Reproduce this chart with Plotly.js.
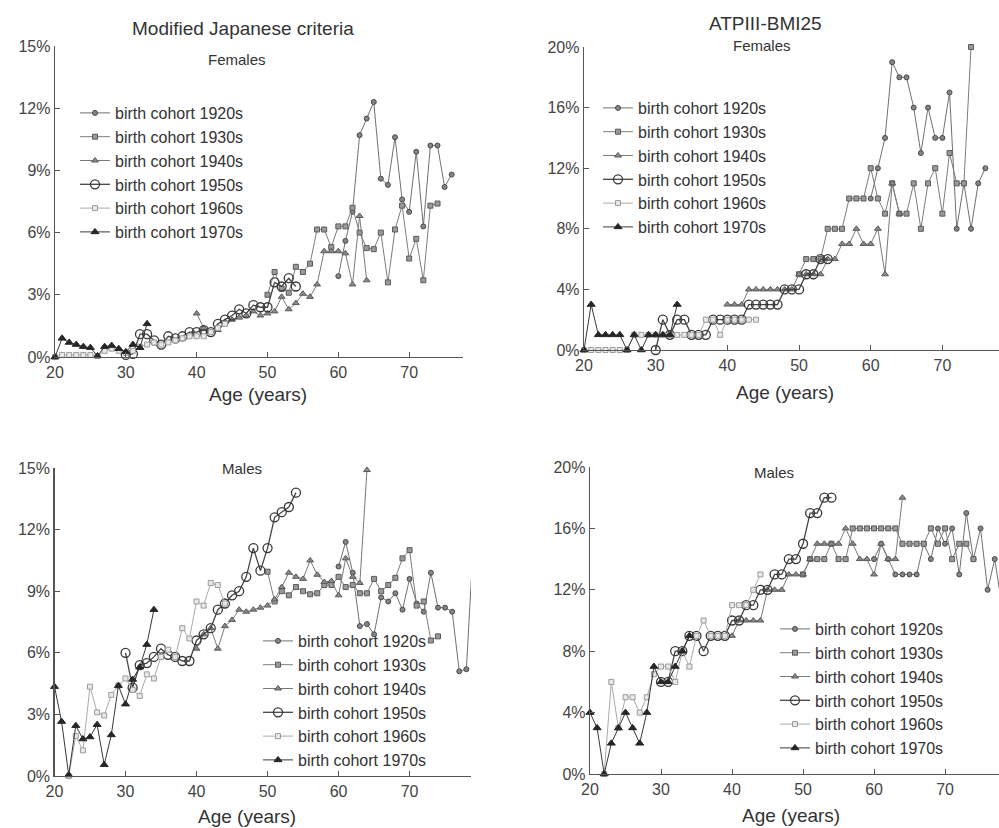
<!DOCTYPE html>
<html><head><meta charset="utf-8">
<script src="https://cdn.plot.ly/plotly-3.0.1.min.js"></script>
<style>html,body{margin:0;padding:0;background:#fff}#chart{width:999px;height:828px}</style>
</head><body><div id="chart"></div>
<script>
// Legend labels
const cohortNames = ['birth cohort 1920s','birth cohort 1930s','birth cohort 1940s','birth cohort 1950s','birth cohort 1960s','birth cohort 1970s'];
const xTickVals = [20, 30, 40, 50, 60, 70];

// ---- Modified Japanese criteria, Females (prevalence %) ----
const jpF1920Start = 60, jpF1920 = [3.9, 5.6, 7.0, 10.7, 11.5, 12.3, 8.6, 8.3, 10.6, 7.6, 7.0, 9.9, 6.3, 10.2, 10.2, 8.2, 8.8];
const jpF1930Start = 50, jpF1930 = [3.0, 4.1, 3.3, 3.1, 4.35, 4.1, 4.5, 6.15, 6.15, 5.3, 6.3, 6.3, 7.2, 6.0, 5.25, 5.2, 6.0, 3.6, 6.15, 7.3, 4.75, 5.7, 3.7, 7.3, 7.4];
const jpF1940Start = 40, jpF1940 = [2.1, 1.4, 1.2, 1.3, 1.7, 1.8, 1.9, 2.0, 2.2, 2.0, 2.1, 2.2, 2.9, 2.3, 2.6, 3.05, 2.9, 3.5, 5.1, 5.1, 5.1, 5.0, 3.5, 6.8, 3.7];
const jpF1950Start = 30, jpF1950 = [0.1, 0.15, 1.1, 1.1, 0.8, 0.6, 1.0, 0.9, 1.0, 1.2, 1.2, 1.3, 1.2, 1.6, 1.8, 2.0, 2.3, 2.1, 2.5, 2.4, 2.4, 3.6, 3.4, 3.8, 3.4];
const jpF1960Start = 20, jpF1960 = [0, 0.1, 0.1, 0.1, 0.1, 0.1, 0.05, 0.3, 0.4, 0.3, 0.2, 0.3, 0.5, 0.6, 0.7, 0.6, 0.7, 0.8, 0.9, 1.0, 1.0, 1.0, 1.2, 1.4, 1.6];
const jpF1970Start = 20, jpF1970 = [0, 0.9, 0.7, 0.6, 0.5, 0.45, 0.05, 0.5, 0.55, 0.4, 0.25, 0.6, 0.45, 1.6];

// ---- ATPIII-BMI25, Females ----
const atF1920Start = 60, atF1920 = [10, 12, 14, 19, 18, 18, 16, 13, 16, 14, 14, 17, 8, 11, 8, 11, 12];
const atF1930Start = 50, atF1930 = [5, 6, 6, 6, 8, 8, 8, 10, 10, 10, 12, 10, 9, 11, 9, 9, 11, 8, 11, 12, 9, 13, 11, 11, 20];
const atF1940Start = 40, atF1940 = [3, 3, 3, 4, 4, 4, 4, 4, 4, 4, 5, 5, 5, 5, 6, 6, 7, 7, 8, 7, 7, 8, 5, 11, 9];
const atF1950Start = 30, atF1950 = [0, 2, 1, 2, 2, 1, 1, 1, 2, 2, 2, 2, 2, 3, 3, 3, 3, 3, 4, 4, 4, 5, 5, 6, 6];
const atF1960Start = 20, atF1960 = [0, 0, 0, 0, 0, 0, 0, 1, 1, 1, 1, 1, 1, 1, 1, 1, 1, 2, 2, 1, 2, 2, 2, 2, 2];
const atF1970Start = 20, atF1970 = [0, 3, 1, 1, 1, 1, 0, 1, 0, 1, 1, 1, 1, 3];

// ---- Modified Japanese criteria, Males ----
const jpM1920Start = 60, jpM1920 = [10.2, 11.4, 9.9, 7.3, 7.4, 6.9, 8.7, 8.5, 8.9, 8.1, 9.6, 8.4, 8.0, 9.9, 8.2, 8.2, 8.0, 5.1, 5.2, 11.5];
const jpM1930Start = 50, jpM1930 = [9.95, 8.5, 9.0, 8.8, 9.2, 9.0, 8.85, 8.9, 9.3, 9.3, 9.7, 9.2, 9.3, 8.9, 8.9, 9.6, 9.0, 9.3, 9.65, 10.6, 11.0, 8.3, 8.5, 6.6, 6.8];
const jpM1940Start = 40, jpM1940 = [6.2, 6.9, 7.2, 6.2, 7.3, 7.6, 8.1, 8.0, 8.1, 8.2, 8.3, 8.6, 9.2, 9.9, 9.7, 9.6, 10.5, 9.8, 9.45, 9.5, 8.8, 10.6, 9.7, 9.4, 14.9];
const jpM1950Start = 30, jpM1950 = [6.0, 4.3, 5.4, 5.5, 5.8, 6.2, 5.9, 5.8, 5.6, 5.6, 6.6, 6.9, 7.2, 8.1, 8.4, 8.8, 9.0, 9.7, 11.1, 10.0, 11.1, 12.6, 12.85, 13.1, 13.8];
const jpM1960Start = 22, jpM1960 = [0, 1.95, 1.25, 4.35, 3.1, 2.95, 3.95, 4.4, 4.75, 4.2, 3.9, 4.95, 4.75, 5.8, 6.15, 5.8, 7.2, 6.7, 8.5, 8.3, 9.4, 9.3, 8.4];
const jpM1970Start = 20, jpM1970 = [4.35, 2.65, 0.05, 2.45, 1.8, 1.9, 2.5, 0.55, 2.0, 4.4, 3.5, 4.7, 5.3, 6.4, 8.1];

// ---- ATPIII-BMI25, Males ----
const atM1920Start = 60, atM1920 = [14, 15, 14, 13, 13, 13, 13, 15, 14, 16, 15, 16, 13, 17, 14, 16, 12, 14, 11];
const atM1930Start = 50, atM1930 = [13, 14, 14, 14, 15, 14, 14, 16, 16, 16, 16, 16, 16, 16, 15, 15, 15, 15, 16, 15, 16, 14, 15, 15, 14];
const atM1940Start = 40, atM1940 = [9, 10, 10, 10, 10, 12, 12, 12, 13, 13, 13, 14, 15, 15, 15, 15, 16, 15, 14, 14, 13, 15, 14, 14, 18];
const atM1950Start = 30, atM1950 = [6, 6, 8, 8, 9, 9, 8, 9, 9, 9, 10, 10, 11, 11, 12, 12, 13, 13, 14, 14, 15, 17, 17, 18, 18];
const atM1960Start = 22, atM1960 = [0, 6, 3, 5, 5, 4, 5, 6.5, 7, 7, 6, 8, 7, 9, 10, 9, 9, 9, 11, 11, 11, 12, 13];
const atM1970Start = 20, atM1970 = [4, 3, 0, 2, 3, 4, 3, 2, 4, 7, 6, 6, 7, 8, 9];

function ages(start, vals) { return vals.map((_, i) => start + i); }

const styles = [
  {line:{color:'#707070', width:1}, marker:{symbol:'circle', size:5, color:'#858585', line:{color:'#4a4a4a', width:1}}},
  {line:{color:'#7c7c7c', width:1}, marker:{symbol:'square', size:5, color:'#9a9a9a', line:{color:'#5a5a5a', width:1}}},
  {line:{color:'#7a7a7a', width:1}, marker:{symbol:'triangle-up', size:6, color:'#8a8a8a', line:{color:'#5a5a5a', width:1}}},
  {line:{color:'#454545', width:1.3}, marker:{symbol:'circle-open', size:9, color:'#383838', line:{color:'#383838', width:1.3}}},
  {line:{color:'#aaaaaa', width:1}, marker:{symbol:'square', size:5, color:'#e8e8e8', line:{color:'#9c9c9c', width:1}}},
  {line:{color:'#383838', width:1}, marker:{symbol:'triangle-up', size:7, color:'#262626', line:{color:'#262626', width:1}}}
];

const panels = [
  {xa:'x', ya:'y', lg:'legend', series:[[jpF1920Start,jpF1920],[jpF1930Start,jpF1930],[jpF1940Start,jpF1940],[jpF1950Start,jpF1950],[jpF1960Start,jpF1960],[jpF1970Start,jpF1970]]},
  {xa:'x2', ya:'y2', lg:'legend2', series:[[atF1920Start,atF1920],[atF1930Start,atF1930],[atF1940Start,atF1940],[atF1950Start,atF1950],[atF1960Start,atF1960],[atF1970Start,atF1970]]},
  {xa:'x3', ya:'y3', lg:'legend3', series:[[jpM1920Start,jpM1920],[jpM1930Start,jpM1930],[jpM1940Start,jpM1940],[jpM1950Start,jpM1950],[jpM1960Start,jpM1960],[jpM1970Start,jpM1970]]},
  {xa:'x4', ya:'y4', lg:'legend4', series:[[atM1920Start,atM1920],[atM1930Start,atM1930],[atM1940Start,atM1940],[atM1950Start,atM1950],[atM1960Start,atM1960],[atM1970Start,atM1970]]}
];

const traces = [];
panels.forEach(p => {
  p.series.forEach((s, i) => {
    traces.push({
      type:'scatter', mode:'lines+markers',
      x: ages(s[0], s[1]), y: s[1],
      xaxis: p.xa, yaxis: p.ya, legend: p.lg,
      name: cohortNames[i],
      line: styles[i].line, marker: styles[i].marker,
      cliponaxis: false, hoverinfo:'x+y+name'
    });
  });
});

const W = 999, H = 828;
const px = v => v / W, py = v => (H - v) / H;
const FAM = '"Liberation Sans", Arial, sans-serif';
const tickFont = {family:FAM, size:16, color:'#444'};
function xax(l, r, rmax) {
  return {domain:[px(l), Math.min(1, px(r))], range:[20, rmax], tickvals:xTickVals, showgrid:false, zeroline:false,
    showline:true, linecolor:'#555', linewidth:1.3, ticks:'inside', ticklen:5, tickcolor:'#555', tickfont:tickFont, fixedrange:true};
}
function yax(b, t, ymax, dt) {
  return {domain:[py(b), py(t)], range:[0, ymax], dtick:dt, tick0:0, ticksuffix:'%', showgrid:false, zeroline:false,
    showline:true, linecolor:'#555', linewidth:1.3, ticks:'inside', ticklen:5, tickcolor:'#555', tickfont:tickFont, fixedrange:true};
}
const legFont = {family:FAM, size:16, color:'#333'};
function leg(x, top) {
  return {x:px(x), y:py(top), xanchor:'left', yanchor:'top', bgcolor:'rgba(0,0,0,0)', borderwidth:0, font:legFont, tracegroupgap:0, traceorder:'normal'};
}
const txtFont = (s) => ({family:FAM, size:s, color:'#333'});
function ann(text, x, y, s) {
  return {text:text, x:px(x), y:py(y), xref:'paper', yref:'paper', xanchor:'center', yanchor:'middle', showarrow:false, font:txtFont(s)};
}

const layout = {
  width:W, height:H, margin:{l:0, r:0, t:0, b:0}, paper_bgcolor:'#fff', plot_bgcolor:'rgba(0,0,0,0)',
  showlegend:true,
  xaxis: Object.assign(xax(55, 463, 77.6), {anchor:'y'}),
  yaxis: Object.assign(yax(357, 46, 15, 3), {anchor:'x'}),
  xaxis2: Object.assign(xax(584, 999, 77.9), {anchor:'y2'}),
  yaxis2: Object.assign(yax(350, 47, 20, 4), {anchor:'x2'}),
  xaxis3: Object.assign(xax(54.5, 471, 78.65), {anchor:'y3'}),
  yaxis3: Object.assign(yax(776, 468, 15, 3), {anchor:'x3'}),
  xaxis4: Object.assign(xax(590, 999, 77.6), {anchor:'y4'}),
  yaxis4: Object.assign(yax(774, 467, 20, 4), {anchor:'x4'}),
  legend: leg(75, 96),
  legend2: leg(598, 91),
  legend3: leg(258, 624),
  legend4: leg(775, 612),
  annotations: [
    ann('Modified Japanese criteria', 243, 28, 19),
    ann('ATPIII-BMI25', 765, 23, 19),
    ann('Females', 237, 60, 15),
    ann('Females', 762, 45, 15),
    ann('Males', 242, 468, 15),
    ann('Males', 774, 472, 15),
    ann('Age (years)', 258, 394, 19),
    ann('Age (years)', 785, 392, 19),
    ann('Age (years)', 247, 816, 19),
    ann('Age (years)', 791, 815, 19)
  ]
};

Plotly.newPlot('chart', traces, layout, {staticPlot:true, displayModeBar:false});
</script>
</body></html>
